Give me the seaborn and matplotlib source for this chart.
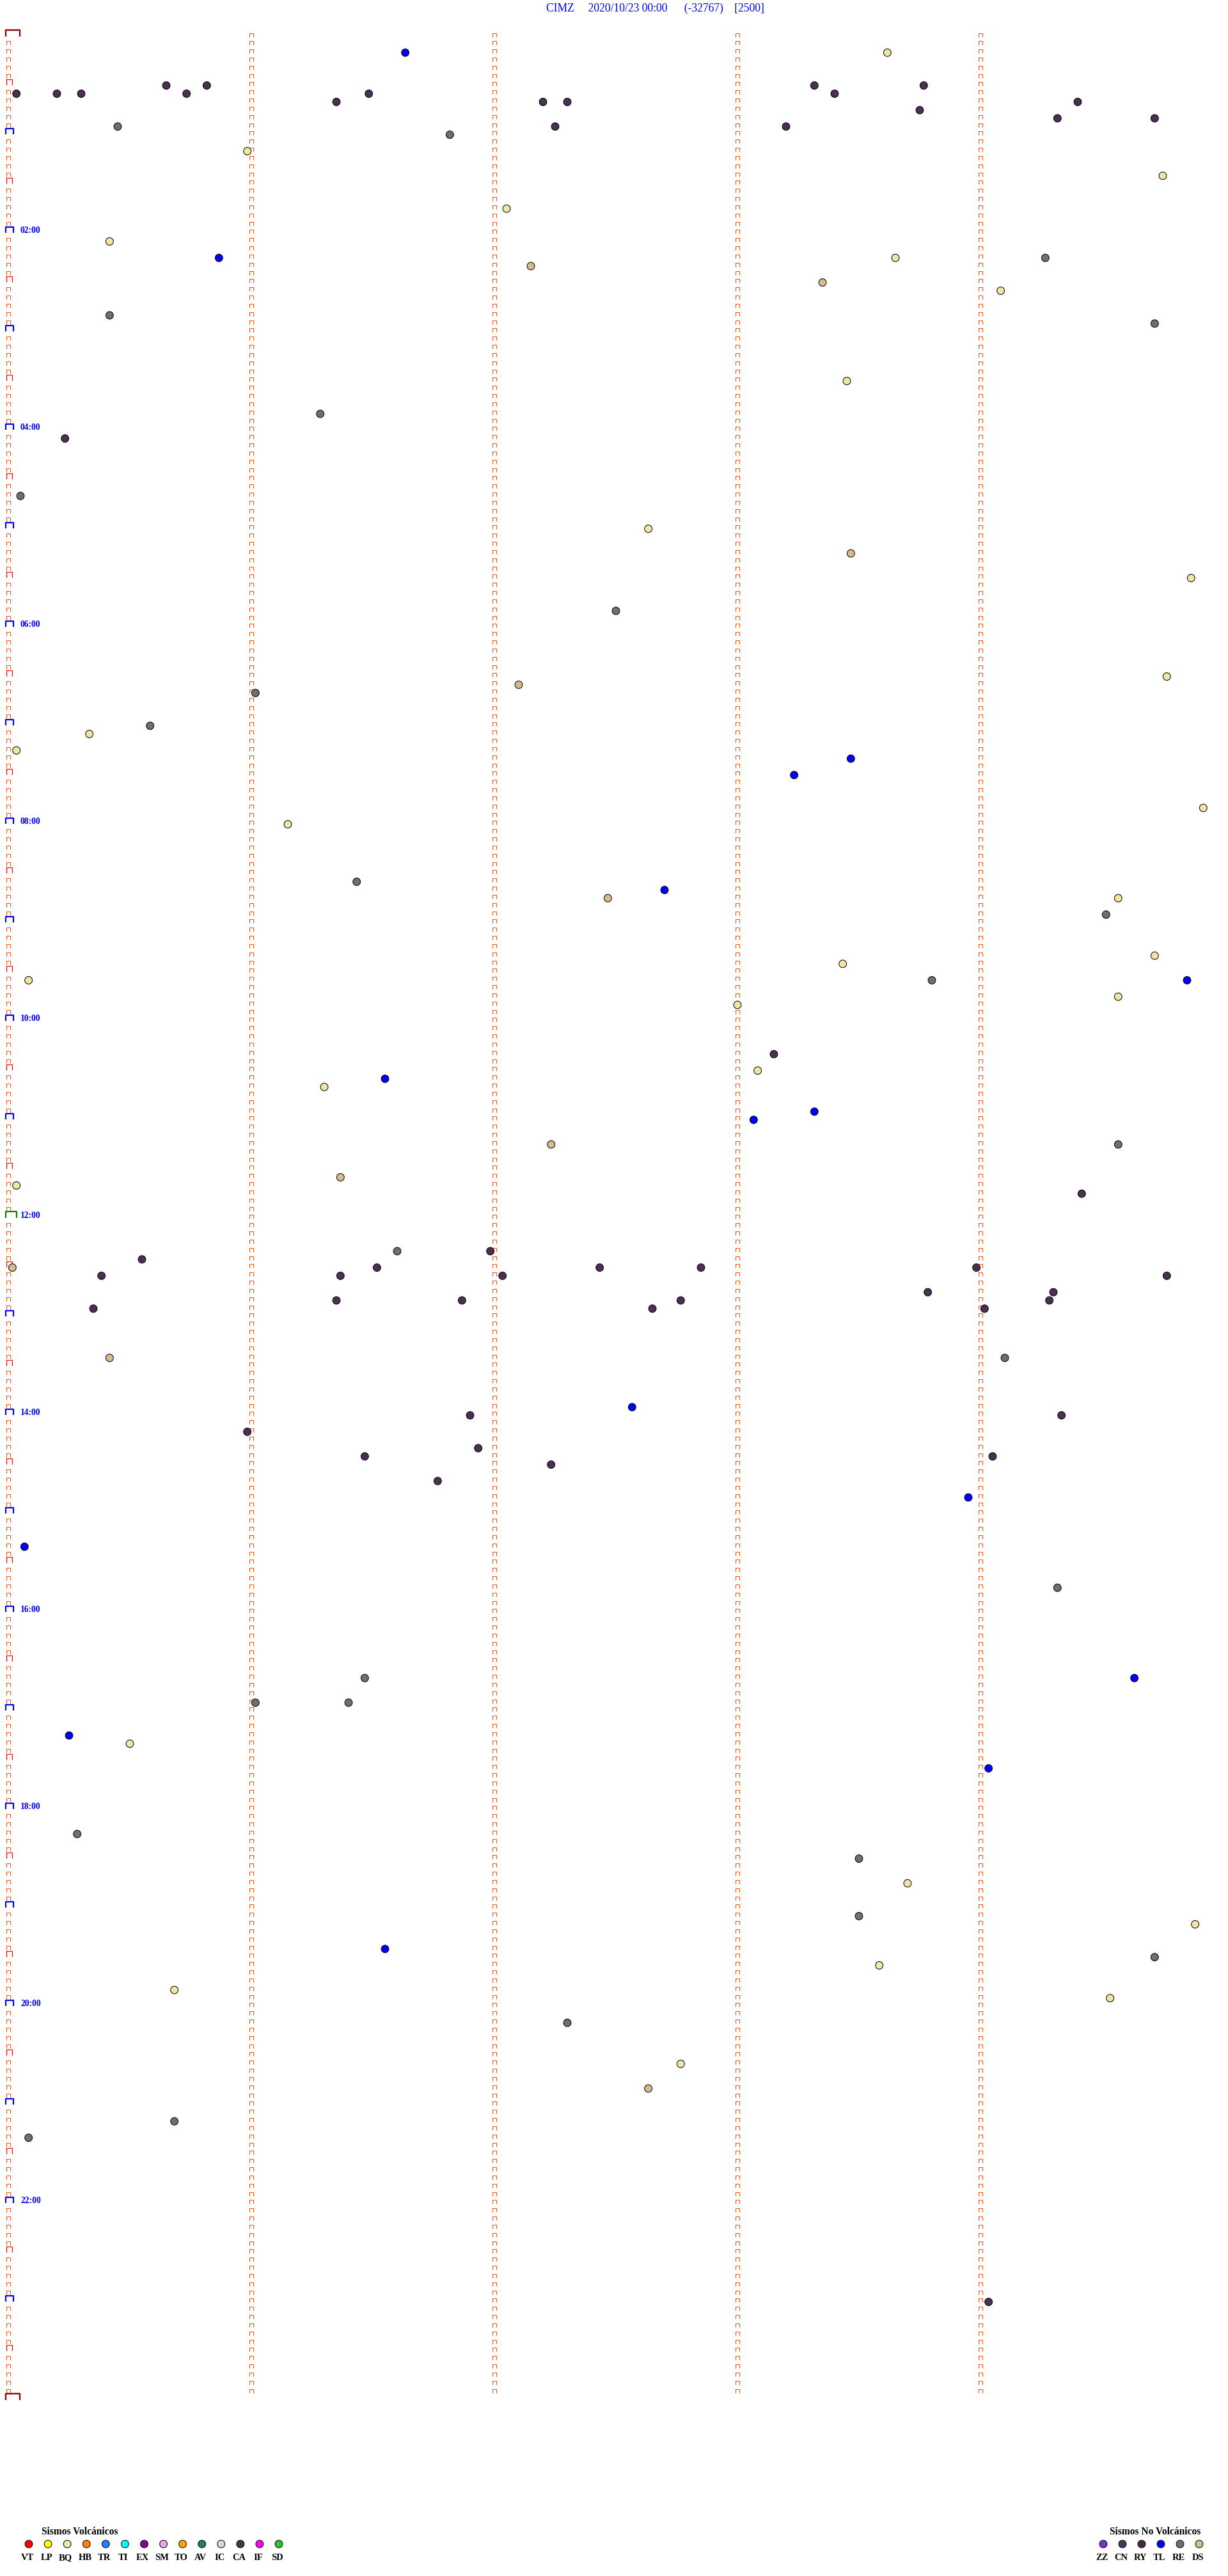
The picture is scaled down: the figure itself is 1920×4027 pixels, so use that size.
import numpy as np
import pandas as pd
import matplotlib
matplotlib.use("Agg")
import matplotlib.pyplot as plt
import seaborn as sns
from matplotlib.path import Path

# Figure size in pixels (dpi 72 -> 1 pt == 1 px)
W, H, DPI = 1920, 4027, 72

# Header
station = "CIMZ"
start_label = "2020/10/23 00:00"
clip_value = "(-32767)"
scale_value = "[2500]"

# Helicorder layout: 5 min per row, 288 rows, minute ticks across a row
row_seconds = 300
n_rows = 288
tick_seconds = [0, 60, 120, 180, 240]
hour_labels = ["02:00", "04:00", "06:00", "08:00", "10:00", "12:00",
               "14:00", "16:00", "18:00", "20:00", "22:00"]

# Events (onset time, class)
event_time = [
    "00:11:38", "00:13:37", "00:30:39", "00:30:49", "00:33:19", "00:33:46",
    "00:35:02", "00:35:12", "00:35:18", "00:35:44", "00:36:29", "00:38:24",
    "00:41:21", "00:42:12", "00:42:18", "00:44:24", "00:48:45", "00:54:19",
    "00:54:43", "00:55:27", "00:57:15", "00:58:12", "01:01:49", "01:10:59",
    "01:29:45", "01:47:03", "02:05:25", "02:15:52", "02:18:39", "02:19:16",
    "02:22:09", "02:33:21", "02:39:05", "02:50:25", "02:59:43", "03:33:27",
    "03:51:17", "04:05:14", "04:40:03", "05:02:38", "05:18:28", "05:34:52",
    "05:52:30",
    "06:34:46", "06:37:06", "06:41:01", "07:00:35", "07:05:20", "07:15:02",
    "07:23:28", "07:33:14", "07:54:55", "08:01:09", "08:36:26", "08:42:42",
    "08:47:28", "08:49:34", "08:59:31", "09:24:43", "09:28:26", "09:35:05",
    "09:38:48", "09:39:51", "09:49:34", "09:53:00", "10:23:09", "10:33:05",
    "10:36:33", "10:41:18", "10:58:19", "11:03:04", "11:17:14", "11:19:34",
    "11:36:22", "11:40:02", "11:49:25",
    "12:21:36", "12:21:59", "12:25:33", "12:30:01", "12:31:31", "12:32:26",
    "12:32:51", "12:33:59", "12:35:23", "12:36:22", "12:37:02", "12:39:46",
    "12:48:47", "12:49:18", "12:51:21", "12:51:52", "12:52:46", "12:54:17",
    "12:55:21", "12:57:39", "12:59:01", "13:25:25", "13:29:06", "13:57:34",
    "14:01:54", "14:04:20", "14:10:59", "14:21:56", "14:26:28", "14:29:03",
    "14:32:14", "14:41:46", "14:53:57", "15:20:04", "15:49:19", "16:41:28",
    "16:44:38", "16:56:01", "16:56:24", "17:15:15", "17:20:30", "17:39:02",
    "18:15:17",
    "18:33:30", "18:48:42", "19:08:30", "19:14:53", "19:26:33", "19:34:43",
    "19:38:35", "19:50:41", "19:59:32", "20:12:18", "20:37:46", "20:52:38",
    "21:10:41", "21:20:05", "23:04:02",
]
event_type = [
    "TL", "BQ", "CA", "CA", "CA", "CA",
    "CA", "CA", "CA", "CA", "CA", "CA",
    "CA", "CA", "CA", "CA", "CA", "CA",
    "CA", "RE", "CA", "CA", "RE", "BQ",
    "BQ", "BQ", "BQ", "TL", "BQ", "RE",
    "DS", "DS", "BQ", "RE", "RE", "BQ",
    "RE", "CA", "RE", "BQ", "DS", "BQ",
    "RE",
    "BQ", "DS", "RE", "RE", "BQ", "BQ",
    "TL", "TL", "BQ", "BQ", "RE", "TL",
    "DS", "BQ", "RE", "BQ", "BQ", "BQ",
    "RE", "TL", "BQ", "BQ", "CA", "BQ",
    "TL", "BQ", "TL", "TL", "DS", "RE",
    "DS", "BQ", "CA",
    "RE", "CA", "CA", "DS", "CA", "CA",
    "CA", "CA", "CA", "CA", "CA", "CA",
    "CA", "CA", "CA", "CA", "CA", "CA",
    "CA", "CA", "CA", "DS", "RE", "TL",
    "CA", "CA", "CA", "CA", "CA", "CA",
    "CA", "CA", "TL", "TL", "RE", "RE",
    "TL", "RE", "RE", "TL", "BQ", "TL",
    "RE",
    "RE", "BQ", "RE", "BQ", "TL", "RE",
    "BQ", "BQ", "BQ", "RE", "BQ", "DS",
    "RE", "RE", "CA",
]

# Legend classes and colours
volcanic_codes = ["VT", "LP", "BQ", "HB", "TR", "TI", "EX", "SM", "TO", "AV", "IC", "CA", "IF", "SD"]
volcanic_colors = ["#ff0000", "#ffff00", "#efe6a5", "#ff8000", "#2080ff", "#00ffff", "#8c008c",
                   "#e8a8e8", "#ffa500", "#208060", "#d8d8d8", "#4a3152", "#ff00ff", "#30c030"]
other_codes = ["ZZ", "CN", "RY", "TL", "RE", "DS"]
other_colors = ["#8030d0", "#4a3a5a", "#4a2848", "#0000ff", "#6f6f6f", "#d4bc8c"]
palette = dict(zip(volcanic_codes + other_codes, volcanic_colors + other_colors))

# Pixel geometry of the drum
left_px, right_px = 13, 1913
top_px, row_px = 51.5, 12.833

sns.set_style("white")
plt.rcParams["font.family"] = ["Liberation Serif", "DejaVu Serif"]


def bracket(left, right, top, bottom):
    # open "n" shaped tick glyph, sizes in pixels
    verts = [(left, -bottom), (left, top), (right, top), (right, -bottom)]
    codes = [Path.MOVETO, Path.LINETO, Path.LINETO, Path.LINETO]
    size = 2 * max(abs(v) for p in verts for v in p)
    return Path(verts, codes), size


def draw_ticks(ax, xs, ys, glyph, color, lw):
    path, size = glyph
    ax.plot(xs, ys, linestyle="none", marker=path, markersize=size,
            markerfacecolor="none", markeredgecolor=color, markeredgewidth=lw,
            clip_on=False, zorder=2)


def draw_legend(fig, codes, x_first, x_last, title, title_x):
    lax = fig.add_axes([x_first / W, 1 - 4007 / H, (x_last - x_first) / W, 60 / H])
    leg = pd.DataFrame({"code": codes, "slot": np.arange(len(codes)), "row": 30})
    sns.scatterplot(data=leg, x="slot", y="row", hue="code", palette=palette, s=140,
                    edgecolor="black", linewidth=1, legend=False, ax=lax, clip_on=False)
    for i, c in enumerate(codes):
        lax.text(i - 0.08, 54.7, c, ha="center", va="baseline", fontsize=14.5,
                 fontweight="bold", color="black")
    lax.set_xlim(0, len(codes) - 1)
    lax.set_ylim(60, 0)
    lax.axis("off")
    fig.text(title_x / W, 1 - 3962 / H, title, ha="center", va="baseline",
             fontsize=15.5, fontweight="bold", color="black")


def main():
    fig = plt.figure(figsize=(W / DPI, H / DPI), dpi=DPI)
    fig.patch.set_facecolor("white")
    ax = fig.add_axes([left_px / W, 1 - (top_px + n_rows * row_px) / H,
                       (right_px - left_px) / W, n_rows * row_px / H])

    rows = np.arange(n_rows)
    small = bracket(-3, 2.7, 0, 5.7)
    half = bracket(-3, 5.7, 3.8, 4.5)
    hour = bracket(-3.7, 7.7, 3.8, 5.2)
    noon = bracket(-3.7, 12.7, 5.0, 5.0)
    day = bracket(-3.7, 17.7, 4.8, 5.2)

    # minute ticks on the inner columns
    for sec in tick_seconds[1:]:
        draw_ticks(ax, np.full(n_rows, sec), rows, small, "#ff4a00", 1)

    # left column: 5 min / 30 min / hour / noon / day marks
    r_small = rows[rows % 6 != 0]
    r_half = rows[(rows % 6 == 0) & (rows % 12 != 0)]
    r_hour = rows[(rows % 12 == 0) & (rows % 144 != 0)]
    r_noon = rows[(rows % 144 == 0) & (rows != 0)]
    r_day = np.array([0, n_rows])
    draw_ticks(ax, np.zeros(len(r_small)), r_small, small, "#ff4a00", 1)
    draw_ticks(ax, np.zeros(len(r_half)), r_half, half, "#ff0000", 1.2)
    draw_ticks(ax, np.zeros(len(r_hour)), r_hour, hour, "#0000ff", 2.2)
    draw_ticks(ax, np.zeros(len(r_noon)), r_noon, noon, "#008000", 2.2)
    draw_ticks(ax, np.zeros(len(r_day)), r_day, day, "#8b0000", 2.4)

    # hour labels every two hours
    for lab in hour_labels:
        r = int(lab[:2]) * 12
        ax.text(3.0, r + 0.375, lab, ha="left", va="baseline", fontsize=13.5,
                fontweight="bold", color="#0000ff", clip_on=False)

    # events
    df = pd.DataFrame({"time": event_time, "type": event_type})
    secs = pd.to_timedelta(df["time"]).dt.total_seconds()
    df["x"] = secs % row_seconds
    df["y"] = secs // row_seconds + 0.4
    sns.scatterplot(data=df, x="x", y="y", hue="type", palette=palette, s=140,
                    edgecolor="black", linewidth=1, legend=False, ax=ax,
                    zorder=3, clip_on=False)

    ax.set_xlim(0, row_seconds)
    ax.set_ylim(n_rows, 0)
    ax.axis("off")

    title = f"{station}     {start_label}      {clip_value}    {scale_value}"
    fig.text(854 / W, 1 - 18.3 / H, title, ha="left", va="baseline",
             fontsize=17.5, color="#0000ff")

    draw_legend(fig, volcanic_codes, 45, 436, "Sismos Volcánicos", 124.5)
    draw_legend(fig, other_codes, 1725, 1875, "Sismos No Volcánicos", 1806)

    fig.savefig("out.png", dpi=DPI, facecolor="white")


if __name__ == "__main__":
    main()
